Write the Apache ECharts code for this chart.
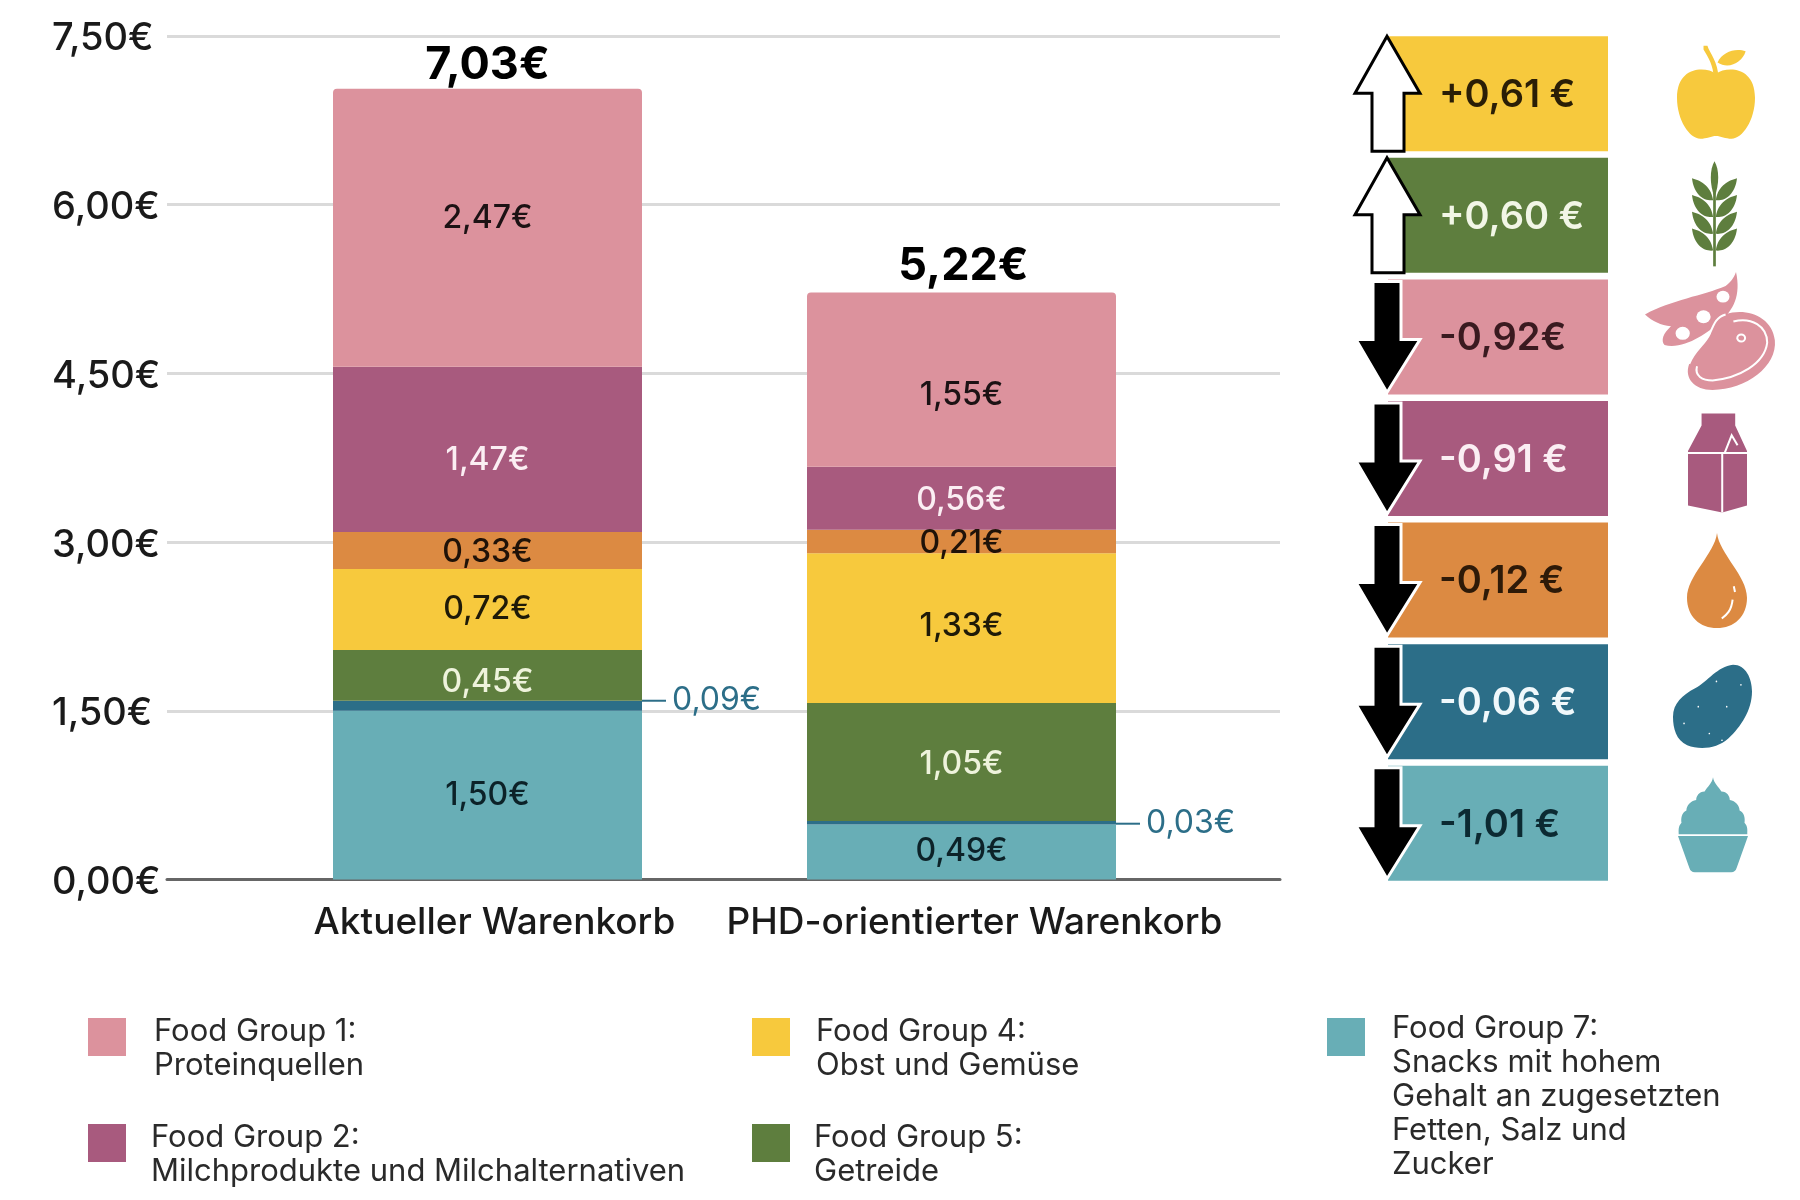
<!DOCTYPE html>
<html>
<head>
<meta charset="utf-8">
<title>Warenkorb</title>
<script src="https://cdn.jsdelivr.net/npm/echarts@6/dist/echarts.min.js"></script>
<style>
html, body { margin: 0; padding: 0; background: #fff; }
#chart { width: 1800px; height: 1200px; }
</style>
</head>
<body>
<div id="chart"></div>
<script>
var categories = ["Aktueller Warenkorb", "PHD-orientierter Warenkorb"];
var group1 = [2.47, 1.55];
var group2 = [1.47, 0.56];
var group3 = [0.33, 0.21];
var group4 = [0.72, 1.33];
var group5 = [0.45, 1.05];
var group6 = [0.09, 0.03];
var group7 = [1.50, 0.49];
var totals = [7.03, 5.22];
var yTicks = [0, 1.5, 3, 4.5, 6, 7.5];
var changeLabels = ["+0,61 €", "+0,60 €", "-0,92€", "-0,91 €", "-0,12 €", "-0,06 €", "-1,01 €"];
var groupNames = [
    "Food Group 1:\nProteinquellen",
    "Food Group 2:\nMilchprodukte und Milchalternativen",
    "Food Group 3",
    "Food Group 4:\nObst und Gemüse",
    "Food Group 5:\nGetreide",
    "Food Group 6",
    "Food Group 7:\nSnacks mit hohem\nGehalt an zugesetzten\nFetten, Salz und\nZucker"
];

var colors = ["#dc929d", "#a85a7e", "#dc8a42", "#f7c93d", "#5e7e3e", "#2c6e88", "#68aeb6"];
var labelColors = ["#1c1214", "#fbeef3", "#1f1208", "#1f1a08", "#eef3dc", "#2c6e88", "#0c2228"];
var changeTextColors = ["#2a1e06", "#f2f6e6", "#3a1a20", "#fbeef3", "#2e1a08", "#f0f8fb", "#0c2a32"];
var labelShifts = [[-9, 16], [11, 2], [2, 2], [0, -2], [7, 2], [-5, 1], [0, -1]];
var totalShifts = [[0, 0], [2, -3]];
var fontName = "Inter";

function euro(value) {
    return value.toFixed(2).replace(".", ",") + "€";
}

function dot(x, y, r) {
    return "M" + (x - r) + " " + y + "A" + r + " " + r + " 0 1 0 " + (x + r) + " " + y +
        "A" + r + " " + r + " 0 1 0 " + (x - r) + " " + y + "Z";
}

function wheatLeaves(y) {
    return [
        "M47 " + (y + 13) + "C28 " + (y + 14) + " 4 " + (y + 8) + " 0 " + (y - 8) + "C16 " + (y - 6) + " 42 " + (y - 2) + " 47 " + (y + 13) + "Z",
        "M53 " + (y + 13) + "C72 " + (y + 14) + " 96 " + (y + 8) + " 100 " + (y - 8) + "C84 " + (y - 6) + " 58 " + (y - 2) + " 53 " + (y + 13) + "Z"
    ].join("");
}

// drawn in a 0..100 box, stretched into w x h, dx/dy from the row centre
var icons = [
    {
        dx: 337, dy: -48, w: 78, h: 93,
        fill: [
            "M50 30C36 22 0 22 0 56C0 80 16 100 30 100C38 100 44 97 50 97C56 97 62 100 70 100C84 100 100 80 100 56C100 22 64 22 50 30Z",
            "M52 18C58 6 76 2 88 6C84 18 66 26 52 18Z",
            "M34 0L39 0C42 8 53 18 53 34L47 34C47 22 40 12 34 4Z"
        ],
        line: [],
        solid: []
    },
    {
        dx: 352, dy: -54, w: 45, h: 105,
        fill: [
            "M50 0C61 8 61 22 50 34C39 22 39 8 50 0Z",
            "M47 30L53 30L53 100L47 100Z",
            wheatLeaves(24), wheatLeaves(40), wheatLeaves(56), wheatLeaves(72)
        ],
        line: [],
        solid: []
    },
    {
        dx: 305, dy: -65, w: 130, h: 118,
        fill: [
            "M70 0C68 6 66 8 62 12C45 20 20 24 0 36C6 42 12 45 20 46C14 52 12 58 15 62C30 66 48 52 58 42C68 32 74 20 70 0Z",
            "M62 36C78 30 98 38 100 58C102 80 78 100 52 100C38 100 30 90 34 78C38 66 46 62 50 52C53 44 55 38 62 36Z"
        ],
        line: [
            "M62 36C55 38 53 44 50 52C46 62 38 66 34 78",
            dot(74, 56, 3),
            "M68 42C82 38 94 46 94 60C92 78 72 90 52 92C44 92 38 88 40 80"
        ],
        solid: [dot(60, 21, 5), dot(45, 38, 5.5), dot(29, 52, 5.5)]
    },
    {
        dx: 348, dy: -45, w: 59, h: 99,
        fill: [
            "M0 38L23 12L23 0L80 0L80 12L100 38L100 93L58 100L0 93Z"
        ],
        line: [
            "M0 40L100 40M58 40L58 100M62 40L74 22L84 32"
        ],
        solid: []
    },
    {
        dx: 347, dy: -47, w: 60, h: 95,
        fill: [
            "M50 0C54 22 100 45 100 68C100 88 78 100 50 100C22 100 0 88 0 68C0 45 46 22 50 0Z"
        ],
        line: [
            "M78 56L80 62M76 70C74 82 66 86 58 90"
        ],
        solid: []
    },
    {
        dx: 333, dy: -37, w: 79, h: 84,
        fill: [
            "M76 0C92 0 100 16 100 32C100 54 86 74 70 88C56 100 34 102 18 96C4 90 0 76 0 62C0 46 12 36 28 28C44 20 56 2 76 0Z"
        ],
        line: [],
        solid: [dot(55, 20, 1), dot(86, 24, 1), dot(32, 50, 1), dot(68, 50, 1), dot(14, 70, 1), dot(46, 82, 1), dot(62, 90, 1)]
    },
    {
        dx: 338, dy: -46, w: 70, h: 95,
        fill: [
            "M50 0C51 6 58 10 62 15C70 15 74 20 74 24C82 25 88 30 88 35C95 37 96 44 95 48C100 52 99 56 99 60L1 60C1 56 0 52 5 48C4 44 5 37 12 35C12 30 18 25 26 24C26 20 30 15 38 15C42 10 49 6 50 0Z",
            "M0 62L100 62L98 66L84 95Q82 100 76 100L24 100Q18 100 16 95L2 66Z"
        ],
        line: [],
        solid: []
    }
];

function iconChildren(icon, x, y, color) {
    var children = [];
    var frame = "M0 0M100 100";
    function add(d, style) {
        children.push({
            type: "path",
            shape: { pathData: frame + d, layout: "cover", x: x, y: y, width: icon.w, height: icon.h },
            style: style
        });
    }
    icon.fill.forEach(function(d) { add(d, { fill: color, stroke: null }); });
    icon.line.forEach(function(d) { add(d, { fill: "none", stroke: "#fff", lineWidth: 2 }); });
    icon.solid.forEach(function(d) { add(d, { fill: "#fff", stroke: null }); });
    return children;
}

function arrowPoints(up, left, top, bottom) {
    if (up) {
        return [[left + 47, top], [left + 80, top + 57], [left + 64, top + 57], [left + 64, bottom],
            [left + 32, bottom], [left + 32, top + 57], [left + 15, top + 57]];
    }
    return [[left + 33, top + 2], [left + 61, top + 2], [left + 61, top + 60], [left + 80, top + 60],
        [left + 47, bottom - 2], [left + 16, top + 60], [left + 33, top + 60]];
}

var changeColors = [colors[3], colors[4], colors[0], colors[1], colors[2], colors[5], colors[6]];

function renderChange(params, api) {
    var i = params.dataIndex;
    var box = params.coordSys;
    var cy = api.coord([0, i])[1];
    var top = cy - 57.5;
    var bottom = cy + 57.5;
    var up = changeLabels[i].charAt(0) === "+";
    var rowColor = changeColors[i];
    var icon = icons[i];
    var children = [
        {
            type: "rect",
            shape: { x: box.x + 48, y: top, width: 220, height: 115 },
            style: { fill: rowColor }
        },
        {
            type: "polygon",
            shape: { points: arrowPoints(up, box.x, top, bottom) },
            style: up ? { fill: "#fff", stroke: "#000", lineWidth: 3 } : { fill: "#000", stroke: "#fff", lineWidth: 3 }
        },
        {
            type: "text",
            style: {
                text: changeLabels[i],
                x: box.x + 99,
                y: cy + 2,
                fill: changeTextColors[i],
                fontFamily: fontName,
                fontSize: 38,
                fontWeight: 600,
                verticalAlign: "middle"
            }
        }
    ];
    return {
        type: "group",
        children: children.concat(iconChildren(icon, box.x + icon.dx, cy + icon.dy, rowColor))
    };
}

var stackOrder = [
    { values: group7, index: 6 },
    { values: group6, index: 5 },
    { values: group5, index: 4 },
    { values: group4, index: 3 },
    { values: group3, index: 2 },
    { values: group2, index: 1 },
    { values: group1, index: 0 }
];

var barSeries = stackOrder.map(function(entry) {
    var thin = entry.index === 5;
    return {
        name: groupNames[entry.index],
        type: "bar",
        stack: "korb",
        xAxisIndex: 1,
        yAxisIndex: 1,
        barWidth: 309,
        data: entry.values.map(function(value, i) {
            return {
                value: value,
                label: { offset: [0, labelShifts[entry.index][i]] }
            };
        }),
        itemStyle: {
            color: colors[entry.index],
            borderRadius: entry.index === 0 ? [4, 4, 0, 0] : 0
        },
        label: thin ? {
            show: true,
            position: "right",
            distance: 0,
            formatter: function(p) { return "{l|}{v|" + euro(p.value) + "}"; },
            rich: {
                l: { width: 24, height: 2, backgroundColor: colors[5] },
                v: { padding: [0, 0, 0, 6], color: colors[5], fontSize: 32, fontFamily: fontName }
            }
        } : {
            show: true,
            position: "inside",
            formatter: function(p) { return euro(p.value); },
            color: labelColors[entry.index],
            fontSize: 32,
            fontWeight: 500,
            fontFamily: fontName
        }
    };
});

// the text block sits lower than the swatch: a blank rich line of height "drop" pushes it down
function legendFor(index, left, top, drop, gap) {
    return {
        left: left,
        top: top,
        padding: 0,
        orient: "vertical",
        selectedMode: false,
        data: [{ name: groupNames[index], icon: "rect" }],
        itemWidth: 38,
        itemHeight: 38,
        formatter: function(name) {
            return "{s| }\n" + name.split("\n").map(function(line) { return "{t|" + line + "}"; }).join("\n");
        },
        textStyle: {
            color: "#2a2a2a",
            padding: [0, 0, 0, gap],
            rich: {
                s: { fontSize: 1, lineHeight: drop, height: drop },
                t: { color: "#2a2a2a", fontFamily: fontName, fontSize: 31, lineHeight: 34, height: 34 }
            }
        }
    };
}

var chart = echarts.init(document.getElementById("chart"));
chart.setOption({
    animation: false,
    backgroundColor: "#fff",
    legend: [
        legendFor(0, 88, 991, 24, 23),
        legendFor(1, 88, 1097, 24, 20),
        legendFor(3, 752, 991, 24, 21),
        legendFor(4, 752, 1097, 24, 19),
        legendFor(6, 1327, 892, 120, 22)
    ],
    grid: [
        { left: 167, width: 1113, top: 36, height: 843.5 },
        { left: 250.5, width: 948, top: 36, height: 843.5 },
        { left: 1340, width: 445, top: 33, height: 851 }
    ],
    xAxis: [
        {
            gridIndex: 0,
            type: "value",
            min: 0,
            max: 1,
            splitLine: { show: false },
            axisTick: { show: false },
            axisLabel: { show: false },
            axisLine: { show: true, lineStyle: { color: "#666", width: 3 } }
        },
        {
            gridIndex: 1,
            type: "category",
            data: categories,
            axisTick: { show: false },
            axisLine: { show: false },
            axisLabel: {
                interval: 0,
                margin: 25,
                fontFamily: fontName,
                fontSize: 37,
                fontWeight: 500,
                color: "#1a1a1a",
                formatter: function(value, i) { return "{c" + i + "|" + value + "}"; },
                rich: {
                    c0: { padding: [0, 0, 0, 14] },
                    c1: { padding: [0, 0, 0, 26] }
                }
            }
        },
        { gridIndex: 2, type: "value", min: 0, max: 1, show: false }
    ],
    yAxis: [
        {
            gridIndex: 0,
            type: "value",
            min: yTicks[0],
            max: yTicks[yTicks.length - 1],
            interval: yTicks[1] - yTicks[0],
            axisLine: { show: false },
            axisTick: { show: false },
            splitLine: { lineStyle: { color: "#dadada", width: 3 } },
            axisLabel: {
                margin: 115,
                align: "left",
                verticalAlign: "top",
                lineHeight: 6,
                fontFamily: fontName,
                fontSize: 38,
                fontWeight: 500,
                color: "#1a1a1a",
                formatter: euro
            }
        },
        { gridIndex: 1, type: "value", min: 0, max: 7.5, show: false },
        { gridIndex: 2, type: "category", inverse: true, show: false, data: changeLabels }
    ],
    series: barSeries.concat([
        {
            name: "Gesamt",
            type: "scatter",
            xAxisIndex: 1,
            yAxisIndex: 1,
            symbolSize: 1,
            itemStyle: { color: "transparent", opacity: 1 },
            data: totals.map(function(value, i) {
                return { value: value, label: { offset: totalShifts[i] } };
            }),
            label: {
                show: true,
                position: "top",
                distance: 0,
                formatter: function(p) { return euro(p.value); },
                fontFamily: fontName,
                fontWeight: 700,
                fontSize: 45,
                color: "#000"
            },
            z: 5
        },
        {
            name: "Änderung",
            type: "custom",
            xAxisIndex: 2,
            yAxisIndex: 2,
            clip: false,
            renderItem: renderChange,
            data: changeLabels.map(function(label, i) { return [0, i]; })
        }
    ])
});
</script>
</body>
</html>
